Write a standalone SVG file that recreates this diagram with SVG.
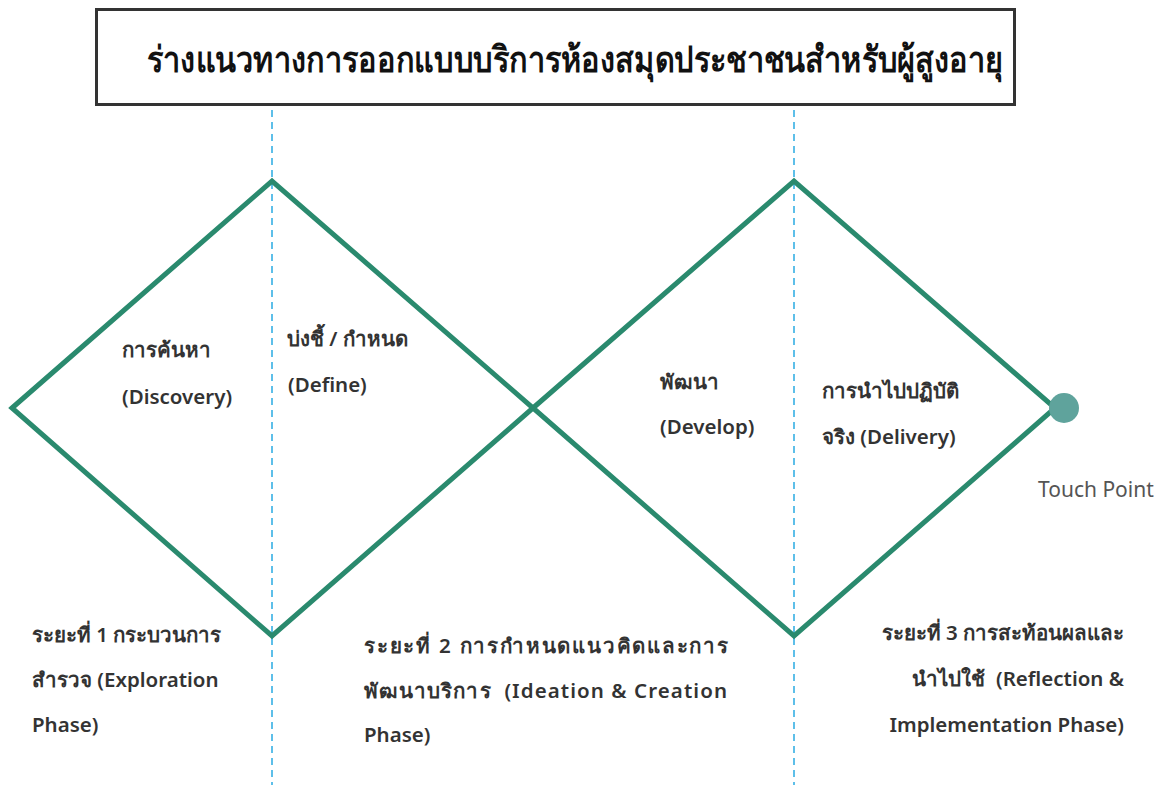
<svg xmlns="http://www.w3.org/2000/svg" width="1159" height="785" viewBox="0 0 1159 785">
<style>
.lbl{font-family:"Noto Sans","Open Sans",sans-serif;font-size:20.500px;font-weight:600;fill:#333}
.pre{white-space:pre}
.tp{font-family:"Noto Sans","Open Sans",sans-serif;font-size:21px;font-weight:400;fill:#555}
.dash{stroke:#29abe2;stroke-width:1.5;stroke-dasharray:7,5;fill:none}
.dia{stroke:#2a8a6e;stroke-width:5;fill:none;stroke-linejoin:miter}
</style>
<rect width="1159" height="785" fill="#fff"/>
<g id="title">
<rect x="96.500" y="9.500" width="918" height="95" fill="#fff" stroke="#333" stroke-width="3"/>
<text x="575" y="72" text-anchor="middle" font-family="'Liberation Serif','Noto Sans',serif" font-size="36" font-weight="700" fill="#111" textLength="856" lengthAdjust="spacingAndGlyphs">ร่างแนวทางการออกแบบบริการห้องสมุดประชาชนสำหรับผู้สูงอายุ</text>
</g>
<g id="connectors">
<line class="dash" x1="272" y1="110" x2="272" y2="785"/>
<line class="dash" x1="794" y1="110" x2="794" y2="785"/>
<polygon class="dia" points="12,408 272,181 533,408 272,636"/>
<polygon class="dia" points="533,408 794,181 1055,408 794,636"/>
</g>
<g id="touch-point">
<circle cx="1064" cy="408" r="15" fill="#5fa39c"/>
<text class="tp" x="1038" y="497">Touch Point</text>
</g>
<g id="discovery">
<text class="lbl" x="122" y="357">การค้นหา</text>
<text class="lbl" x="122" y="404">(Discovery)</text>
</g>
<g id="define">
<text class="lbl" x="287" y="346">บ่งชี้ / กำหนด</text>
<text class="lbl" x="288" y="392">(Define)</text>
</g>
<g id="develop">
<text class="lbl" x="660" y="389">พัฒนา</text>
<text class="lbl" x="660" y="434">(Develop)</text>
</g>
<g id="delivery">
<text class="lbl" x="822" y="398">การนำไปปฏิบัติ</text>
<text class="lbl" x="822" y="444">จริง (Delivery)</text>
</g>
<g id="phase1">
<text class="lbl" x="32" y="642">ระยะที่ 1 กระบวนการ</text>
<text class="lbl" x="32" y="687">สำรวจ (Exploration</text>
<text class="lbl" x="32" y="732">Phase)</text>
</g>
<g id="phase2">
<text class="lbl" x="364" y="653" textLength="364" lengthAdjust="spacing">ระยะที่ 2 การกำหนดแนวคิดและการ</text>
<text class="lbl pre" x="364" y="698" textLength="363" lengthAdjust="spacing">พัฒนาบริการ  (Ideation &amp; Creation</text>
<text class="lbl" x="364" y="742">Phase)</text>
</g>
<g id="phase3">
<text class="lbl" x="1124" y="640" text-anchor="end">ระยะที่ 3 การสะท้อนผลและ</text>
<text class="lbl pre" x="1124" y="686" text-anchor="end">นำไปใช้  (Reflection &amp;</text>
<text class="lbl" x="1124" y="732" text-anchor="end">Implementation Phase)</text>
</g>
</svg>
